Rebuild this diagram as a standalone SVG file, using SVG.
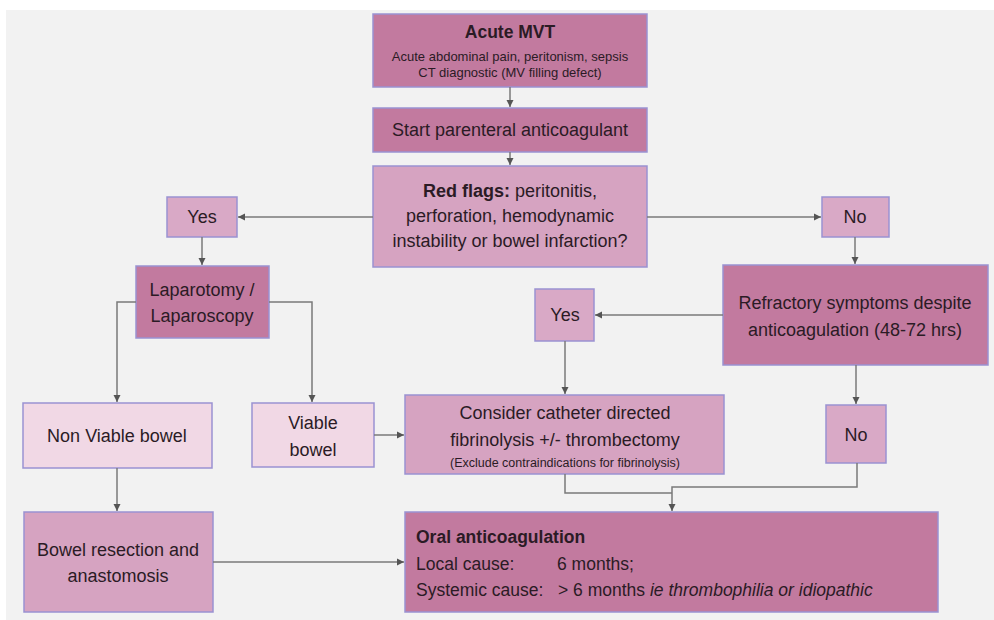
<svg xmlns="http://www.w3.org/2000/svg" width="994" height="620" viewBox="0 0 994 620">
<defs>
<marker id="ah" markerWidth="8" markerHeight="8" refX="7" refY="4" orient="auto" markerUnits="userSpaceOnUse">
<path d="M0,0.5 L7,4 L0,7.5 Z" fill="#555"/>
</marker>
<style>
.bg{fill:#f2f2f2}
.n{stroke:#9a92d2;stroke-width:1.5}
.dark{fill:#c27a9f}
.mid{fill:#d6a3c1}
.lite{fill:#d9a9c6}
.pale{fill:#f1d8e5}
text{font-family:"Liberation Sans",Arial,sans-serif;fill:#2b1b25;font-size:18px}
.c{text-anchor:middle}
.b{font-weight:bold}
.s{font-size:13px}
.xs{font-size:12.5px}
.o{font-size:17.5px}
.cn{fill:none;stroke:#7a7a7a;stroke-width:1.5}
</style>
</defs>
<rect x="0" y="0" width="994" height="620" fill="#ffffff"/>
<rect class="bg" x="6" y="10" width="988" height="610"/>

<g id="acute-mvt">
<rect class="n dark" x="373" y="14" width="274" height="73"/>
<text class="c b" x="510" y="38" style="font-size:17.5px">Acute MVT</text>
<text class="c s" x="510" y="61">Acute abdominal pain, peritonism, sepsis</text>
<text class="c s" x="510" y="77">CT diagnostic (MV filling defect)</text>
</g>

<g id="start-anticoagulant">
<rect class="n dark" x="373" y="108" width="274" height="44"/>
<text class="c" x="510" y="136">Start parenteral anticoagulant</text>
</g>

<g id="red-flags">
<rect class="n mid" x="373" y="166" width="274" height="101"/>
<text class="c" x="510" y="197"><tspan class="b">Red flags:</tspan> peritonitis,</text>
<text class="c" x="510" y="222">perforation, hemodynamic</text>
<text class="c" x="510" y="247">instability or bowel infarction?</text>
</g>

<g id="yes-left">
<rect class="n lite" x="167" y="197" width="70" height="40"/>
<text class="c" x="202" y="223">Yes</text>
</g>

<g id="no-right">
<rect class="n lite" x="822" y="197" width="67" height="40"/>
<text class="c" x="855" y="223">No</text>
</g>

<g id="laparotomy">
<rect class="n dark" x="136" y="266" width="133" height="72"/>
<text class="c" x="202" y="296">Laparotomy /</text>
<text class="c" x="202" y="322">Laparoscopy</text>
</g>

<g id="refractory">
<rect class="n dark" x="723" y="265" width="265" height="100"/>
<text class="c" x="855" y="309">Refractory symptoms despite</text>
<text class="c" x="855" y="336">anticoagulation (48-72 hrs)</text>
</g>

<g id="yes-mid">
<rect class="n lite" x="535" y="289" width="59" height="52"/>
<text class="c" x="565" y="321">Yes</text>
</g>

<g id="non-viable">
<rect class="n pale" x="23" y="403" width="189" height="65"/>
<text class="c" x="117" y="442">Non Viable bowel</text>
</g>

<g id="viable">
<rect class="n pale" x="252" y="403" width="122" height="64"/>
<text class="c" x="313" y="429">Viable</text>
<text class="c" x="313" y="456">bowel</text>
</g>

<g id="catheter">
<rect class="n mid" x="405" y="395" width="319" height="79"/>
<text class="c" x="565" y="419">Consider catheter directed</text>
<text class="c" x="565" y="446">fibrinolysis +/- thrombectomy</text>
<text class="c xs" x="565" y="467">(Exclude contraindications for fibrinolysis)</text>
</g>

<g id="no-bottom">
<rect class="n lite" x="826" y="405" width="60" height="58"/>
<text class="c" x="856" y="441">No</text>
</g>

<g id="resection">
<rect class="n mid" x="24" y="512" width="189" height="100"/>
<text class="c" x="118" y="556">Bowel resection and</text>
<text class="c" x="118" y="582">anastomosis</text>
</g>

<g id="oral">
<rect class="n dark" x="405" y="512" width="533" height="100"/>
<text class="b o" x="416" y="543">Oral anticoagulation</text>
<text class="o" x="416" y="570">Local cause:</text>
<text class="o" x="557" y="570">6 months;</text>
<text class="o" x="416" y="596">Systemic cause:</text>
<text class="o" x="558" y="596">&gt; 6 months <tspan font-style="italic">ie thrombophilia or idiopathic</tspan></text>
</g>

<g id="connectors">
<path class="cn" d="M510,87 V107" marker-end="url(#ah)"/>
<path class="cn" d="M510,152 V165" marker-end="url(#ah)"/>
<path class="cn" d="M373,217 H238" marker-end="url(#ah)"/>
<path class="cn" d="M647,217 H821" marker-end="url(#ah)"/>
<path class="cn" d="M202,237 V265" marker-end="url(#ah)"/>
<path class="cn" d="M136,302 H117 V402" marker-end="url(#ah)"/>
<path class="cn" d="M269,302 H312 V402" marker-end="url(#ah)"/>
<path class="cn" d="M117,468 V511" marker-end="url(#ah)"/>
<path class="cn" d="M374,435 H404" marker-end="url(#ah)"/>
<path class="cn" d="M213,562 H404" marker-end="url(#ah)"/>
<path class="cn" d="M855,237 V264" marker-end="url(#ah)"/>
<path class="cn" d="M723,315 H595" marker-end="url(#ah)"/>
<path class="cn" d="M565,341 V394" marker-end="url(#ah)"/>
<path class="cn" d="M856,365 V404" marker-end="url(#ah)"/>
<path class="cn" d="M565,474 V493 H672"/>
<path class="cn" d="M857,463 V487 H672 V511" marker-end="url(#ah)"/>
</g>
</svg>
